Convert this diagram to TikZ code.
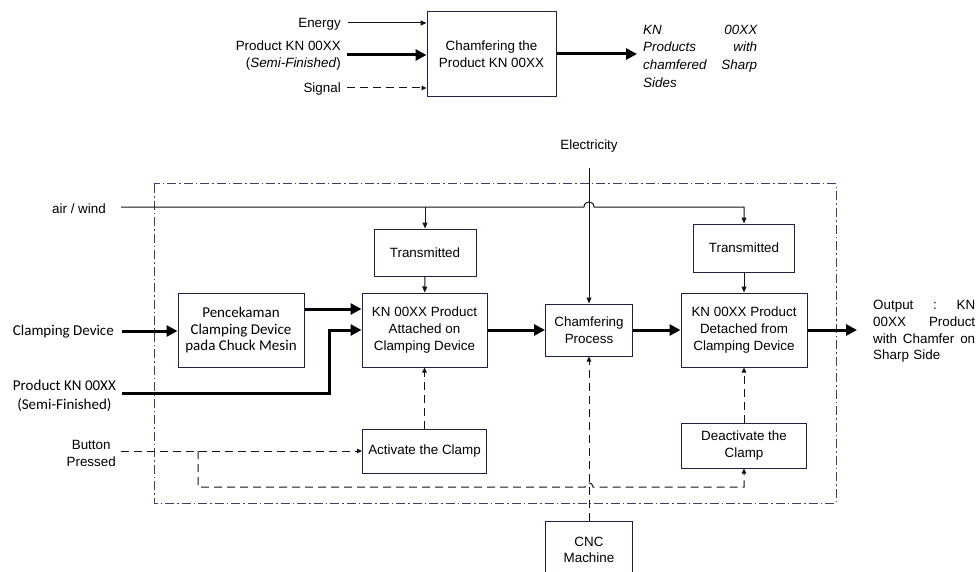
\documentclass[tikz,border=0pt]{standalone}
\usepackage{fontspec}
\setmainfont{Liberation Sans}
\newfontfamily\carlfont{Carlito}
\usetikzlibrary{arrows.meta}
\definecolor{boxc}{RGB}{30,36,64}
\definecolor{framec}{RGB}{60,66,96}
\definecolor{linec}{RGB}{20,20,20}
\newcommand\arialtext{\fontsize{13.4}{16.6}\selectfont}
\newcommand\carltext{\carlfont\fontsize{15}{16.8}\selectfont}
\tikzset{
  box/.style={draw=boxc, line width=1pt, inner sep=0pt, align=center, font=\arialtext},
  cbox/.style={box, font=\carltext},
  lbl/.style={inner sep=3pt, font=\arialtext},
  clbl/.style={inner sep=3pt, font=\carltext},
  thinarr/.style={draw=linec, line width=1pt, -{Triangle[length=6pt,width=5pt]}},
  thickarr/.style={draw=black, line width=3pt, -{Triangle[length=11pt,width=11pt]}},
  dasharr/.style={draw=linec, line width=1pt, dash pattern=on 8pt off 5pt, -{Triangle[length=5pt,width=4.5pt]}},
  frameln/.style={draw=framec, line width=1pt, dash pattern=on 9pt off 3pt on 1.5pt off 3pt},
}
\begin{document}
\begin{tikzpicture}[x=1pt,y=-1pt]
\useasboundingbox (0,0) rectangle (979,572);

% ---------- top section ----------
\node[box, minimum width=129pt, minimum height=85pt] (top) at (491.5,54.5) {Chamfering the\\Product KN 00XX};
\node[lbl, anchor=east] (lEnergy) at (344,24.5) {Energy};
\node[lbl, anchor=east, align=right, font=\fontsize{13.4}{17}\selectfont] (lProdT) at (344,56) {Product KN 00XX\\(\textit{Semi-Finished})};
\node[lbl, anchor=east] (lSignal) at (344,89.5) {Signal};
\coordinate (enS) at (348,23);
\coordinate (prS) at (347,55);
\coordinate (sgS) at (347,88);
\draw[thinarr] (enS) -- (top.west |- enS);
\draw[thickarr] (prS) -- (top.west |- prS);
\draw[dasharr] (sgS) -- (top.west |- sgS);
\coordinate (topOut) at (637,54);
\draw[thickarr] (top.east |- topOut) -- (topOut);
\node[inner sep=0pt, anchor=west, text width=114pt, align=left, font=\fontsize{13.4}{17.7}\selectfont\itshape] (outTop) at (643,56)
  {KN\hfill 00XX\\Products\hfill with\\chamfered\hfill Sharp\\Sides};

% ---------- frame ----------
\draw[frameln] (154,184) rectangle (836,503);

% ---------- boxes ----------
\node[box, minimum width=102pt, minimum height=47pt] (tr1) at (425,252.5) {Transmitted};
\node[box, minimum width=125pt, minimum height=74pt] (att) at (424.5,330) {KN 00XX Product\\Attached on\\Clamping Device};
\node[box, minimum width=87pt, minimum height=52pt] (chf) at (589,330) {Chamfering\\Process};
\node[box, minimum width=101pt, minimum height=48pt] (tr2) at (744,248) {Transmitted};
\node[box, minimum width=126pt, minimum height=74pt] (det) at (744,330) {KN 00XX Product\\Detached from\\Clamping Device};
\node[cbox, minimum width=126pt, minimum height=74pt] (pen) at (241,330) {Pencekaman\\Clamping Device\\pada Chuck Mesin};
\node[box, minimum width=124pt, minimum height=44pt] (act) at (424.5,451) {Activate the Clamp};
\node[box, minimum width=125pt, minimum height=45pt] (dea) at (744,445.5) {Deactivate the\\Clamp};
\node[box, minimum width=87pt, minimum height=60pt] (cnc) at (589,551) {};
\node[inner sep=0pt, align=center, font=\arialtext] (cncT) at (589,550) {CNC\\Machine};

% ---------- labels ----------
\node[lbl] (lElec) at (589,146.5) {Electricity};
\node[lbl, anchor=east] (lAir) at (109,208.5) {air / wind};
\node[clbl, anchor=east] (lClamp) at (117,332) {Clamping Device};
\node[clbl, anchor=east, align=center, font=\carlfont\fontsize{15}{19}\selectfont] (lProd) at (119,395.5) {Product KN 00XX\\(Semi-Finished)};
\node[lbl, anchor=east, align=center, font=\fontsize{13.4}{17}\selectfont] (lBtn) at (119,453) {Button\\Pressed};
\node[inner sep=0pt, anchor=west, text width=102pt, align=left, font=\fontsize{13.4}{16.7}\selectfont] (outB) at (873,331.5)
  {Output\hfill:\hfill KN\\00XX\hfill Product\\with\hfill Chamfer\hfill on\\Sharp Side};

% ---------- connectors ----------
\coordinate (elS) at (589,168);
\draw[thinarr] (elS) -- (chf.north);

\coordinate (airS) at (121,207);
\draw[thinarr] (airS) -- (584,207) .. controls (584,200.3) and (594,200.3) .. (594,207) -- (tr2.north |- airS) -- (tr2.north);
\draw[thinarr] (tr1.north |- airS) -- (tr1.north);
\draw[thinarr] (tr1) -- (att);
\draw[thinarr] (tr2) -- (det);

\coordinate (clS) at (122,331);
\draw[thickarr] (clS) -- (pen.west |- clS);
\draw[thickarr] ([yshift=21pt]pen.east) -- ([yshift=21pt]att.west);
\coordinate (pdS) at (122,393);
\draw[thickarr, line join=miter] (pdS) -| ([xshift=-32pt]att.west) -- (att.west);
\draw[thickarr] (att.east) -- (chf.west);
\draw[thickarr] (chf.east) -- (det.west);
\coordinate (outE) at (857,330);
\draw[thickarr] (det.east) -- (outE);

\coordinate (btS) at (121,451);
\draw[dasharr] (btS) -- (act.west);
\coordinate (brA) at (198,451);
\coordinate (brB) at (198,487);
\draw[dasharr] (brA) -- (brB) -- (585,487) .. controls (585,481.7) and (593,481.7) .. (593,487) -- (dea.south |- brB) -- (dea.south);
\draw[dasharr] (act.north) -- (act.north |- att.south);
\draw[dasharr] (dea.north) -- (dea.north |- det.south);
\draw[dasharr] (cnc.north) -- (chf.south);
\end{tikzpicture}
\end{document}
